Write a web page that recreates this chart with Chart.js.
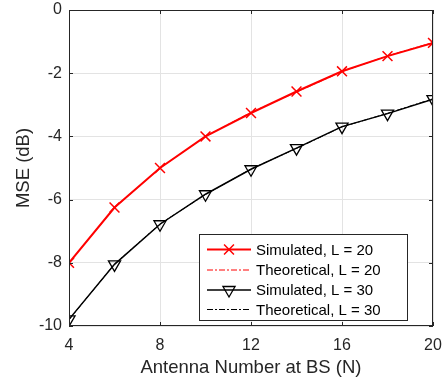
<!DOCTYPE html>
<html>
<head>
<meta charset="utf-8">
<script src="https://cdn.jsdelivr.net/npm/chart.js@4/dist/chart.umd.min.js"></script>
<style>
html,body{margin:0;padding:0;background:#fff;}
#wrap{width:442px;height:382px;position:relative;}
</style>
</head>
<body>
<div id="wrap"><canvas id="c" width="442" height="382"></canvas></div>
<script>
const antennas = [4, 6, 8, 10, 12, 14, 16, 18, 20];
const simL20 = [-8.0, -6.25, -5.0, -4.0, -3.26, -2.58, -1.94, -1.46, -1.04];
const theoL20 = [-8.0, -6.26, -5.0, -4.0, -3.24, -2.6, -1.95, -1.45, -1.03];
const simL30 = [-9.79, -8.05, -6.78, -5.83, -5.04, -4.37, -3.69, -3.28, -2.82];
const theoL30 = [-9.8, -8.04, -6.77, -5.84, -5.03, -4.38, -3.7, -3.27, -2.81];
const xTicks = [4, 8, 12, 16, 20];
const yTicks = [0, -2, -4, -6, -8, -10];
const legendLabels = ['Simulated, L = 20', 'Theoretical, L = 20', 'Simulated, L = 30', 'Theoretical, L = 30'];

const pts = ys => antennas.map((x, i) => ({x: x, y: ys[i]}));
const FONT = '"Liberation Sans", Arial, sans-serif';
const AX = '#262626';

const datasets = [
  {label: legendLabels[0], data: pts(simL20), borderColor: '#ff0000', backgroundColor: '#ff0000', borderWidth: 2,
   pointStyle: 'crossRot', pointRadius: 7, pointBorderWidth: 1.5, pointBorderColor: '#ff0000'},
  {label: legendLabels[1], data: pts(theoL20), borderColor: '#ff0000', borderWidth: 1, borderDash: [6, 2, 2, 2],
   pointRadius: 0},
  {label: legendLabels[2], data: pts(simL30), borderColor: '#000000', backgroundColor: 'rgba(0,0,0,0)', borderWidth: 1.5,
   pointStyle: 'triangle', pointRotation: 180, pointRadius: 7, pointBorderWidth: 1.3, pointBorderColor: '#000000'},
  {label: legendLabels[3], data: pts(theoL30), borderColor: '#000000', borderWidth: 1, borderDash: [6, 2, 2, 2],
   pointRadius: 0}
];

const frame = {
  id: 'frame',
  afterDatasetsDraw(chart) {
    const {ctx, chartArea: a, scales} = chart;
    ctx.save();
    ctx.strokeStyle = AX;
    ctx.lineWidth = 1;
    ctx.strokeRect(a.left + 0.5, a.top + 0.5, a.right - a.left - 1, a.bottom - a.top - 1);
    const tl = 4;
    ctx.beginPath();
    xTicks.forEach(v => {
      const px = Math.round(scales.x.getPixelForValue(v)) + 0.5;
      ctx.moveTo(px, a.bottom); ctx.lineTo(px, a.bottom - tl);
      ctx.moveTo(px, a.top); ctx.lineTo(px, a.top + tl);
    });
    yTicks.forEach(v => {
      const py = Math.round(scales.y.getPixelForValue(v)) + 0.5;
      ctx.moveTo(a.left, py); ctx.lineTo(a.left + tl, py);
      ctx.moveTo(a.right, py); ctx.lineTo(a.right - tl, py);
    });
    ctx.stroke();

    // legend
    const bx = 199.5, by = 234.5, bw = 208, bh = 86;
    ctx.fillStyle = '#fff';
    ctx.fillRect(bx, by, bw, bh);
    ctx.strokeStyle = AX;
    ctx.strokeRect(bx, by, bw, bh);
    const rows = [249.5, 270, 290, 309.5];
    ctx.font = '15px ' + FONT;
    ctx.textBaseline = 'middle';
    datasets.forEach((d, i) => {
      const y = rows[i];
      ctx.save();
      ctx.strokeStyle = d.borderColor;
      ctx.lineWidth = d.borderWidth;
      ctx.setLineDash(d.borderDash || []);
      ctx.beginPath(); ctx.moveTo(207, y); ctx.lineTo(251, y); ctx.stroke();
      ctx.restore();
      if (d.pointRadius > 0) {
        ctx.save();
        ctx.strokeStyle = d.pointBorderColor;
        ctx.fillStyle = 'rgba(0,0,0,0)';
        ctx.lineWidth = d.pointBorderWidth;
        Chart.helpers.drawPoint(ctx, {pointStyle: d.pointStyle, rotation: d.pointRotation || 0, radius: d.pointRadius, borderWidth: d.pointBorderWidth}, 229, y);
        ctx.restore();
      }
      ctx.fillStyle = '#000';
      ctx.fillText(legendLabels[i], 256, y + 1);
    });
    ctx.restore();
  }
};

const noPad = s => { s.paddingLeft = 0; s.paddingRight = 0; s.paddingTop = 0; s.paddingBottom = 0; };

new Chart(document.getElementById('c'), {
  type: 'line',
  data: {datasets: datasets},
  options: {
    responsive: false,
    animation: false,
    layout: {padding: {top: 10, right: 9, left: 0, bottom: 0}},
    plugins: {legend: {display: false}, tooltip: {enabled: false}},
    scales: {
      x: {
        type: 'linear', min: 4, max: 20,
        afterBuildTicks: s => { s.ticks = xTicks.map(v => ({value: v})); },
        afterFit: s => { s.height = 56; noPad(s); },
        grid: {color: '#e3e3e3', drawTicks: false, lineWidth: 1},
        border: {display: false},
        ticks: {color: AX, font: {family: FONT, size: 16}, padding: 10, maxRotation: 0},
        title: {display: true, text: 'Antenna Number at BS (N)', color: AX, font: {family: FONT, size: 18.5}, padding: {top: 0, bottom: 3}}
      },
      y: {
        type: 'linear', min: -10, max: 0,
        afterBuildTicks: s => { s.ticks = yTicks.map(v => ({value: v})); },
        afterFit: s => { s.width = 69; noPad(s); },
        grid: {color: '#e3e3e3', drawTicks: false, lineWidth: 1},
        border: {display: false},
        ticks: {color: AX, font: {family: FONT, size: 16}, padding: 7},
        title: {display: true, text: 'MSE (dB)', color: AX, font: {family: FONT, size: 18.5}, padding: {top: 13, bottom: 0}}
      }
    }
  },
  plugins: [frame]
});
</script>
</body>
</html>
